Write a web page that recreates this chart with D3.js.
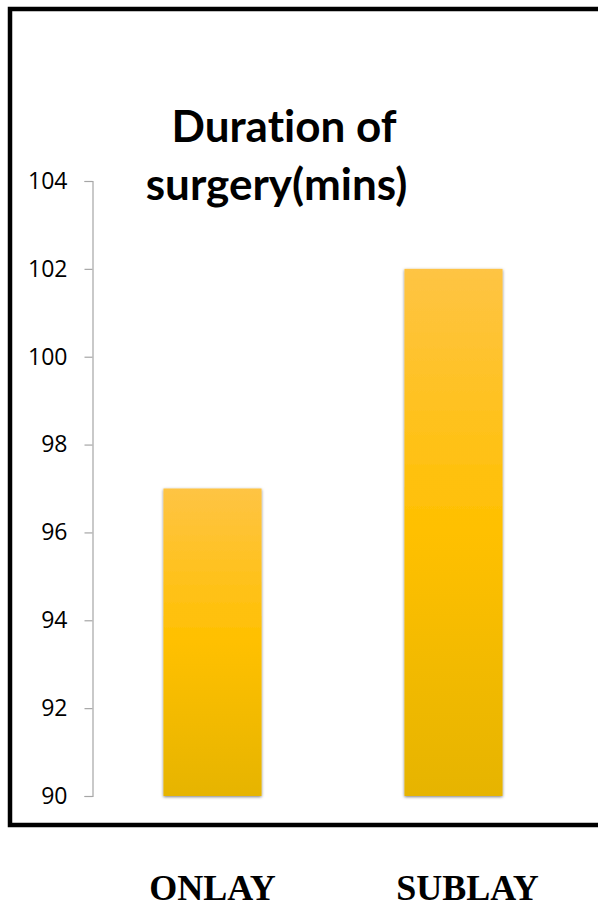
<!DOCTYPE html>
<html>
<head>
<meta charset="utf-8">
<script src="https://cdn.jsdelivr.net/npm/d3@7"></script>
<style>
  html, body { margin: 0; padding: 0; background: #fff; }
  svg { display: block; }
</style>
</head>
<body>
<script>
// Mean duration of surgery by mesh placement technique
const categories = ["ONLAY", "SUBLAY"];
const durations = [97, 102];
const yTicks = [90, 92, 94, 96, 98, 100, 102, 104];
const titleLines = ["Duration of", "surgery(mins)"];

const W = 598, H = 909;
const svg = d3.select("body").append("svg")
  .attr("width", W).attr("height", H);

const defs = svg.append("defs");
const grad = defs.append("linearGradient")
  .attr("id", "barFill")
  .attr("x1", 0).attr("y1", 0).attr("x2", 0).attr("y2", 1);
grad.append("stop").attr("offset", "0%").attr("stop-color", "#fec444");
grad.append("stop").attr("offset", "50%").attr("stop-color", "#ffc000");
grad.append("stop").attr("offset", "100%").attr("stop-color", "#e6b400");

const shadow = defs.append("filter")
  .attr("id", "barShadow")
  .attr("x", "-20%").attr("y", "-10%").attr("width", "140%").attr("height", "120%");
shadow.append("feDropShadow")
  .attr("dx", 0).attr("dy", 1)
  .attr("stdDeviation", 1.8)
  .attr("flood-color", "#000").attr("flood-opacity", 0.5);

// outer frame (open to the right edge)
svg.append("rect")
  .attr("x", 10).attr("y", 9)
  .attr("width", W + 20).attr("height", 816)
  .attr("fill", "none")
  .attr("stroke", "#000")
  .attr("stroke-width", 4.5);

const y = d3.scaleLinear().domain([90, 104]).range([796, 181]);
const x = d3.scaleBand().domain(categories)
  .range([92, 574]).paddingInner(0.593).paddingOuter(0.2965);

// y axis
const yAxis = svg.append("g")
  .attr("transform", "translate(92.5,0)")
  .call(d3.axisLeft(y).tickValues(yTicks).tickSize(8).tickPadding(17).tickFormat(d3.format("d")));
yAxis.select(".domain").attr("stroke", "#a6a6a6").attr("stroke-width", 1.2);
yAxis.selectAll(".tick line").attr("stroke", "#a6a6a6").attr("stroke-width", 1.2);
yAxis.selectAll(".tick text")
  .attr("fill", "#000")
  .style("font-family", "'Open Sans', 'Liberation Sans', sans-serif")
  .style("font-size", "23px");

// bars
svg.append("g").selectAll("rect")
  .data(categories.map((c, i) => ({ c, v: durations[i] })))
  .join("rect")
  .attr("x", d => x(d.c))
  .attr("y", d => y(d.v))
  .attr("width", x.bandwidth())
  .attr("height", d => y(90) - y(d.v))
  .attr("fill", "url(#barFill)")
  .attr("filter", "url(#barShadow)");

// title
svg.append("text")
  .attr("x", 284).attr("y", 142)
  .attr("text-anchor", "middle")
  .style("font-family", "Lato, 'Open Sans', sans-serif")
  .style("font-weight", "bold")
  .style("font-size", "44px")
  .style("font-variant-ligatures", "none")
  .attr("fill", "#000")
  .selectAll("tspan")
  .data(titleLines)
  .join("tspan")
  .attr("x", (d, i) => i === 0 ? 284 : 276.5)
  .attr("dy", (d, i) => i === 0 ? 0 : 58)
  .text(d => d);

// category labels below the frame
const labelShift = [0, 14];
svg.append("g").selectAll("text")
  .data(categories)
  .join("text")
  .attr("x", (d, i) => x(d) + x.bandwidth() / 2 + labelShift[i])
  .attr("y", 900)
  .attr("text-anchor", "middle")
  .style("font-family", "'Liberation Serif', 'Times New Roman', serif")
  .style("font-weight", "bold")
  .style("font-size", "36px")
  .attr("fill", "#000")
  .text(d => d);
</script>
</body>
</html>
